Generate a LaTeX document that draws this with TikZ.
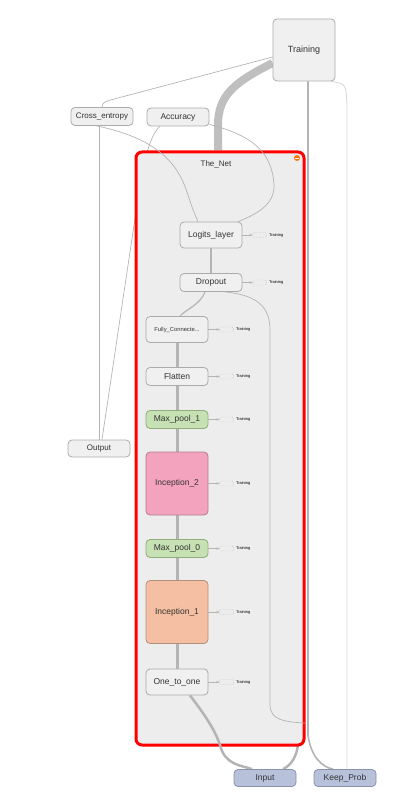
\documentclass[tikz,border=0pt]{standalone}
\usepackage{fontspec}
\setmainfont{Liberation Sans}
\usetikzlibrary{positioning,arrows.meta,calc}

\definecolor{boxfill}{HTML}{F0F0F0}
\definecolor{boxline}{HTML}{ABABAB}
\definecolor{netfill}{HTML}{EDEDED}
\definecolor{poolfill}{HTML}{C6E2B4}
\definecolor{poolline}{HTML}{8FAE7B}
\definecolor{incAfill}{HTML}{F4A3BF}
\definecolor{incAline}{HTML}{B27D91}
\definecolor{incBfill}{HTML}{F4BFA2}
\definecolor{incBline}{HTML}{B2907D}
\definecolor{ioFill}{HTML}{B7C2DA}
\definecolor{ioLine}{HTML}{8792AB}
\definecolor{edgegray}{HTML}{B4B4B4}
\definecolor{lightgray}{HTML}{D6D6D6}
\definecolor{textgray}{HTML}{333333}

\pgfdeclarelayer{outer}
\pgfdeclarelayer{cluster}
\pgfdeclarelayer{inner}
\pgfsetlayers{outer,cluster,inner,main}

\tikzset{
  opnode/.style={draw=boxline, fill=boxfill, rounded corners=4pt, line width=0.8pt,
    minimum width=62pt, minimum height=18pt, inner sep=0pt, text=textgray,
    font=\fontsize{8}{9.6}\selectfont},
  poolnode/.style={opnode, fill=poolfill, draw=poolline},
  incAnode/.style={opnode, fill=incAfill, draw=incAline, minimum height=63pt, font=\fontsize{8.5}{10}\selectfont},
  incBnode/.style={opnode, fill=incBfill, draw=incBline, minimum height=63pt, font=\fontsize{8.5}{10}\selectfont},
  ionode/.style={opnode, fill=ioFill, draw=ioLine, minimum height=17pt, font=\fontsize{8.5}{10}\selectfont},
  cluster/.style={draw=red, fill=netfill, line width=3pt, rounded corners=6pt,
    minimum width=168pt, minimum height=593pt, inner sep=0pt},
  tbox/.style={draw=boxline, densely dotted, rounded corners=1.5pt, line width=0.4pt,
    minimum width=14pt, minimum height=5pt, inner sep=0pt},
  tlab/.style={font=\fontsize{4}{5}\selectfont, inner sep=0pt, anchor=west},
  tarrow/.style={draw=edgegray, line width=0.6pt, -{Stealth[length=3pt,width=2.5pt]}},
  thinedge/.style={draw=edgegray, line width=0.7pt},
  lightedge/.style={draw=lightgray, line width=0.8pt},
  midedge/.style={draw=edgegray, line width=1.6pt},
  thickedge/.style={draw=edgegray, line width=3pt},
  band/.style={draw=edgegray!85, line width=8pt}
}

\begin{document}
\begin{tikzpicture}[x=1pt,y=-1pt]
\useasboundingbox (0,0) rectangle (414,802);

\node[opnode, minimum width=62pt, minimum height=62pt, font=\fontsize{9}{11}\selectfont] (training) at (304,50) {Training};
\node[opnode] (cross) at (102,116.5) {Cross\_entropy};
\node[opnode, font=\fontsize{8.5}{10}\selectfont] (accuracy) at (178,117) {Accuracy};
\node[opnode, minimum height=17pt] (output) at (99,448.5) {Output};
\node[ionode] (input) at (265,778) {Input};
\node[ionode] (keep) at (345,778) {Keep\_Prob};

\begin{pgfonlayer}{cluster}
\node[cluster] (net) at (220,448.5) {};
\end{pgfonlayer}
\node[font=\fontsize{8}{9.6}\selectfont, text=textgray] (nettitle) at (216,164) {The\_Net};
\node[circle, fill=orange!90!red, minimum size=6pt, inner sep=0pt] (netbtn) at (297,158) {};
\draw[white, line width=0.8pt] ([xshift=-1.8]netbtn.center) -- ([xshift=1.8]netbtn.center);

\node[opnode, minimum height=26pt, font=\fontsize{8.5}{10}\selectfont] (logits) at (211,235) {Logits\_layer};
\node[opnode, font=\fontsize{8.5}{10}\selectfont] (dropout) at (211,282.5) {Dropout};
\node[opnode, minimum height=26pt, font=\fontsize{5.8}{7}\selectfont] (fc) at (177,329.5) {Fully\_Connecte...};
\node[opnode, font=\fontsize{8.5}{10}\selectfont] (flatten) at (177,376.5) {Flatten};
\node[poolnode, font=\fontsize{8.5}{10}\selectfont] (pool1) at (177,419.5) {Max\_pool\_1};
\node[incAnode] (inc2) at (177,483.5) {Inception\_2};
\node[poolnode, font=\fontsize{8.5}{10}\selectfont] (pool0) at (177,548.5) {Max\_pool\_0};
\node[incBnode] (inc1) at (177,612) {Inception\_1};
\node[opnode, minimum height=26pt, font=\fontsize{8.5}{10}\selectfont] (onetoone) at (177,682) {One\_to\_one};

\foreach \n/\g in {logits/10pt, dropout/10pt, fc/11pt, flatten/11pt, pool1/11pt, inc2/11pt, pool0/11pt, inc1/11pt, onetoone/11pt}{
  \node[tbox, right=\g of \n] (\n box) {};
  \node[tlab, right=2pt of \n box] (\n lab) {Training};
  \draw[tarrow] (\n) -- (\n box);
}

\begin{pgfonlayer}{outer}
\draw[thinedge] ([yshift=-7]training.west) -- (118,98) .. controls (103,102) .. (cross.north);
\draw[band] ([yshift=-13]training.west) .. controls (235,82) and (218,95) .. (218,125) -- ([xshift=-2]net.north);
\draw[midedge] ([xshift=4]training.south) -- (308,735) .. controls (311,757) and (322,767) .. ([xshift=-12]keep.north);
\draw[lightedge] ([xshift=-4]training.south east) .. controls (346,84) .. (347,105) -- ([xshift=2]keep.north);
\draw[thinedge] ([xshift=-3]cross.south) -- (output.north);
\draw[thinedge] ([xshift=13]accuracy.south west) .. controls (152,134) and (146,150) .. (140,185) -- ([xshift=3]output.north);
\draw[thickedge, line width=2.5pt] ([xshift=18]input.north) .. controls (292,765) and (297,755) .. (298,744);
\end{pgfonlayer}

\begin{pgfonlayer}{inner}
\draw[thinedge] ([xshift=26]cross.south west) .. controls (165,140) and (180,170) .. (188,195) .. controls (193,210) .. ([xshift=-13]logits.north);
\draw[thinedge] ([yshift=2]accuracy.south east) .. controls (250,135) and (272,150) .. (274,185) .. controls (275,205) and (255,215) .. ([xshift=27]logits.north);
\draw[midedge] (logits.south) -- (dropout.north);
\draw[midedge, line width=1.2pt] ([xshift=-6]dropout.south) .. controls (200,305) and (185,310) .. ([xshift=3]fc.north);
\draw[thinedge] ([xshift=14]dropout.south) .. controls (255,295) and (270,305) .. (270,330) -- (270,705) .. controls (270,720) and (285,722) .. (305,723);
\draw[thickedge] (fc.south) -- (flatten.north);
\draw[thickedge] (flatten.south) -- (pool1.north);
\draw[thickedge] (pool1.south) -- (inc2.north);
\draw[thickedge] (inc2.south) -- (pool0.north);
\draw[thickedge] (pool0.south) -- (inc1.north);
\draw[thickedge] (inc1.south) -- (onetoone.north);
\draw[thickedge, line width=2.5pt] ([xshift=13]onetoone.south) .. controls (205,715) and (215,730) .. (220,745) .. controls (225,765) and (240,765) .. ([xshift=-13]input.north);
\end{pgfonlayer}
\end{tikzpicture}
\end{document}
